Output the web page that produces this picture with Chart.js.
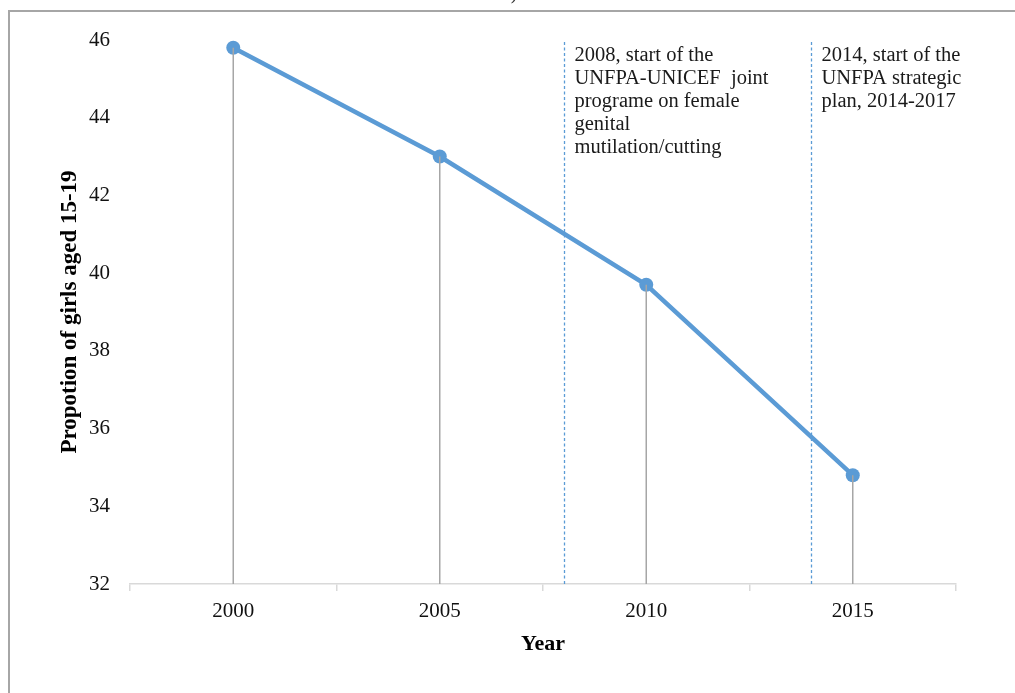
<!DOCTYPE html>
<html>
<head>
<meta charset="utf-8">
<script src="https://cdn.jsdelivr.net/npm/chart.js@4.4.1/dist/chart.umd.min.js"></script>
<style>
  html, body { margin: 0; padding: 0; background: #ffffff; }
  #wrap { position: relative; width: 1015px; height: 693px; }
</style>
</head>
<body>
<div id="wrap"><canvas id="chart" width="1015" height="693"></canvas></div>
<script>
// Survey years and share of girls aged 15-19 (%)
const years = ['2000', '2005', '2010', '2015'];
const proportion = [45.8, 43.0, 39.7, 34.8];

// Y axis range
const yMin = 32;
const yMax = 46;
const yStep = 2;

// Programme milestones shown as dashed reference lines
const milestoneYears = [2008, 2014];
const milestoneNotes = [
  ['2008, start of the', 'UNFPA-UNICEF  joint', 'programe on female', 'genital', 'mutilation/cutting'],
  ['2014, start of the', 'UNFPA strategic', 'plan, 2014-2017']
];

const SERIF = '"Liberation Serif", "Times New Roman", serif';
const LINE_BLUE = '#5b9bd5';

// Convert a calendar year into a pixel on the category axis
function yearToPixel(scale, yr) {
  const first = Number(years[0]);
  const step = Number(years[1]) - first;
  return scale.getPixelForValue((yr - first) / step);
}

const decorations = {
  id: 'decorations',
  beforeDraw(chart) {
    const ctx = chart.ctx;
    ctx.save();
    // outer frame (top and left edges)
    ctx.strokeStyle = '#a6a6a6';
    ctx.lineWidth = 2;
    ctx.beginPath();
    ctx.moveTo(9, chart.height);
    ctx.lineTo(9, 11);
    ctx.lineTo(chart.width, 11);
    ctx.stroke();
    // tail of a caption above the frame
    ctx.fillStyle = '#333';
    ctx.font = '20px ' + SERIF;
    ctx.textAlign = 'center';
    ctx.textBaseline = 'alphabetic';
    ctx.fillText(')', 514, -1);
    ctx.restore();
  },
  afterDatasetsDraw(chart) {
    const ctx = chart.ctx;
    const xs = chart.scales.x;
    const ys = chart.scales.y;
    const bottom = ys.getPixelForValue(yMin);
    ctx.save();
    // drop lines from each point to the axis
    ctx.strokeStyle = '#a6a6a6';
    ctx.lineWidth = 1.5;
    const meta = chart.getDatasetMeta(0);
    meta.data.forEach(pt => {
      ctx.beginPath();
      ctx.moveTo(pt.x, pt.y);
      ctx.lineTo(pt.x, bottom);
      ctx.stroke();
    });
    // milestone lines and notes
    milestoneYears.forEach((yr, i) => {
      const px = Math.round(yearToPixel(xs, yr)) + 0.5;
      ctx.strokeStyle = LINE_BLUE;
      ctx.lineWidth = 1.3;
      ctx.setLineDash([3, 2.5]);
      ctx.beginPath();
      ctx.moveTo(px, 42);
      ctx.lineTo(px, bottom);
      ctx.stroke();
      ctx.setLineDash([]);
      ctx.fillStyle = '#1a1a1a';
      ctx.font = '20.5px ' + SERIF;
      ctx.textAlign = 'left';
      ctx.textBaseline = 'middle';
      milestoneNotes[i].forEach((line, j) => {
        ctx.fillText(line, px + 10, 56 + j * 22.8);
      });
    });
    ctx.restore();
  }
};

new Chart(document.getElementById('chart'), {
  type: 'line',
  data: {
    labels: years,
    datasets: [{
      data: proportion,
      borderColor: LINE_BLUE,
      backgroundColor: LINE_BLUE,
      borderWidth: 4.5,
      pointRadius: 7,
      pointHoverRadius: 7,
      pointBorderWidth: 0,
      pointBackgroundColor: LINE_BLUE,
      tension: 0,
      fill: false
    }]
  },
  options: {
    responsive: false,
    animation: false,
    devicePixelRatio: 1,
    layout: { padding: { top: 40, right: 59, left: 0, bottom: 0 } },
    plugins: {
      legend: { display: false },
      tooltip: { enabled: false }
    },
    scales: {
      x: {
        type: 'category',
        offset: true,
        grid: {
          display: true,
          offset: true,
          drawOnChartArea: false,
          drawTicks: true,
          tickLength: 7,
          color: '#d9d9d9',
          lineWidth: 1.5
        },
        border: { display: true, color: '#d9d9d9', width: 1.5 },
        ticks: {
          color: '#111',
          font: { family: SERIF, size: 21 },
          padding: 8,
          maxRotation: 0
        },
        title: {
          display: true,
          text: 'Year',
          color: '#000',
          font: { family: SERIF, size: 22, weight: 'bold' },
          padding: { top: 0, bottom: 35 }
        },
        afterFit(scale) { scale.height = 693 - 584; }
      },
      y: {
        min: yMin,
        max: yMax,
        grid: { display: false, drawTicks: false },
        border: { display: false },
        ticks: {
          stepSize: yStep,
          color: '#111',
          font: { family: SERIF, size: 21 },
          padding: 20
        },
        title: {
          display: true,
          text: 'Propotion of girls aged 15-19',
          color: '#000',
          font: { family: SERIF, size: 23, weight: 'bold' },
          padding: { top: 56, bottom: 0 }
        },
        afterFit(scale) { scale.width = 130; }
      }
    }
  },
  plugins: [decorations]
});
</script>
</body>
</html>
